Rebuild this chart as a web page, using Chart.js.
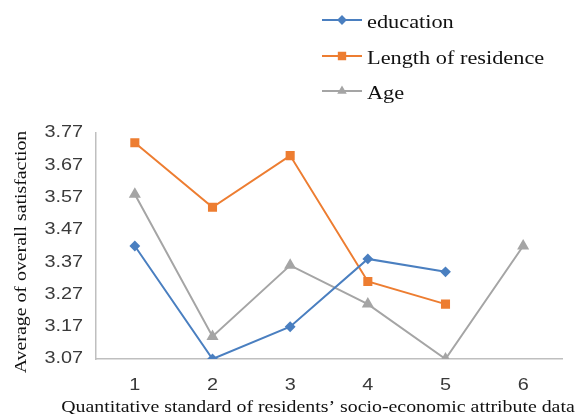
<!DOCTYPE html>
<html>
<head>
<meta charset="utf-8">
<script src="https://cdn.jsdelivr.net/npm/chart.js@4/dist/chart.umd.min.js"></script>
<style>
  html, body { margin: 0; padding: 0; background: #fff; }
  #wrap { width: 579px; height: 414px; position: relative; }
</style>
</head>
<body>
<div id="wrap"><canvas id="c"></canvas></div>
<script>
// Categories and series values
const categories = ['1', '2', '3', '4', '5', '6'];
const education = [3.42, 3.07, 3.17, 3.38, 3.34, null];
const residence = [3.74, 3.54, 3.70, 3.31, 3.24, null];
const age = [3.58, 3.14, 3.36, 3.24, 3.07, 3.42];
const yTicks = [3.07, 3.17, 3.27, 3.37, 3.47, 3.57, 3.67, 3.77];

const seriesNames = ['education', 'Length of residence', 'Age'];
const xTitle = 'Quantitative standard of residents\u2019 socio-economic attribute data';
const yTitle = 'Average of overall satisfaction';

const colors = ['#4a7fc0', '#ed7d31', '#a5a5a5'];
const pointStyles = ['rectRot', 'rect', 'triangle'];
const pointRadii = [4, 5, 5];

// Text is set slightly wide, as in the typeset figure
const WIDE = 1.24;
const SANS = '"Liberation Sans", Arial, sans-serif';
const SERIF = '"Liberation Serif", "Times New Roman", serif';

function wideText(ctx, text, x, y, align, font, color, angle) {
  ctx.save();
  ctx.translate(x, y);
  if (angle) ctx.rotate(angle);
  ctx.scale(WIDE, 1);
  ctx.font = font;
  ctx.fillStyle = color;
  ctx.textAlign = align;
  ctx.textBaseline = 'middle';
  ctx.fillText(text, 0, 0);
  ctx.restore();
}

// Tick labels, axis titles and a vertical legend
const axisText = {
  id: 'axisText',
  afterDraw(chart) {
    const ctx = chart.ctx;
    const xs = chart.scales.x, ys = chart.scales.y;
    const area = chart.chartArea;

    ys.ticks.forEach((t, i) => {
      wideText(ctx, Number(t.value).toFixed(2), area.left - 13, ys.getPixelForTick(i),
        'right', '16px ' + SANS, '#3a3a3a');
    });
    xs.ticks.forEach((t, i) => {
      wideText(ctx, categories[t.value], xs.getPixelForTick(i), area.bottom + 27,
        'center', '16px ' + SANS, '#3a3a3a');
    });

    wideText(ctx, xTitle, 318, area.bottom + 49, 'center', '16px ' + SERIF, '#111');
    wideText(ctx, yTitle, 22, 252, 'center', '16px ' + SERIF, '#111', -Math.PI / 2);

    const x0 = 322, x1 = 362, tx = 367;
    const rows = [20, 56, 91];
    chart.data.datasets.forEach((ds, i) => {
      const y = rows[i];
      ctx.save();
      ctx.strokeStyle = ds.borderColor;
      ctx.lineWidth = 2;
      ctx.beginPath();
      ctx.moveTo(x0, y);
      ctx.lineTo(x1, y);
      ctx.stroke();
      ctx.fillStyle = ds.backgroundColor;
      Chart.helpers.drawPoint(ctx, {
        pointStyle: ds.pointStyle,
        radius: [3.5, 4.5, 3.5][i],
        rotation: 0,
        borderWidth: 1
      }, (x0 + x1) / 2, y);
      ctx.restore();
      wideText(ctx, ds.label, tx, y + 3, 'left', '18px ' + SERIF, '#111');
    });
  }
};

const datasets = [education, residence, age].map((vals, i) => ({
  label: seriesNames[i],
  data: vals,
  borderColor: colors[i],
  backgroundColor: colors[i],
  borderWidth: 2,
  pointStyle: pointStyles[i],
  pointRadius: pointRadii[i],
  pointHoverRadius: pointRadii[i],
  tension: 0,
  spanGaps: false
}));

new Chart(document.getElementById('c'), {
  type: 'line',
  data: { labels: categories, datasets },
  plugins: [axisText],
  options: {
    responsive: true,
    maintainAspectRatio: false,
    animation: false,
    layout: { padding: { top: 133, right: 17, left: 88, bottom: 47 } },
    plugins: {
      legend: { display: false },
      tooltip: { enabled: false }
    },
    scales: {
      x: {
        offset: true,
        grid: { display: false },
        border: { display: true, color: '#bfbfbf', width: 1.5 },
        ticks: { display: false }
      },
      y: {
        min: 3.07,
        max: 3.77,
        grid: { display: false },
        border: { display: true, color: '#bfbfbf', width: 1.5 },
        afterBuildTicks(scale) {
          scale.ticks = yTicks.map(v => ({ value: v }));
        },
        ticks: { display: false }
      }
    }
  }
});
</script>
</body>
</html>
